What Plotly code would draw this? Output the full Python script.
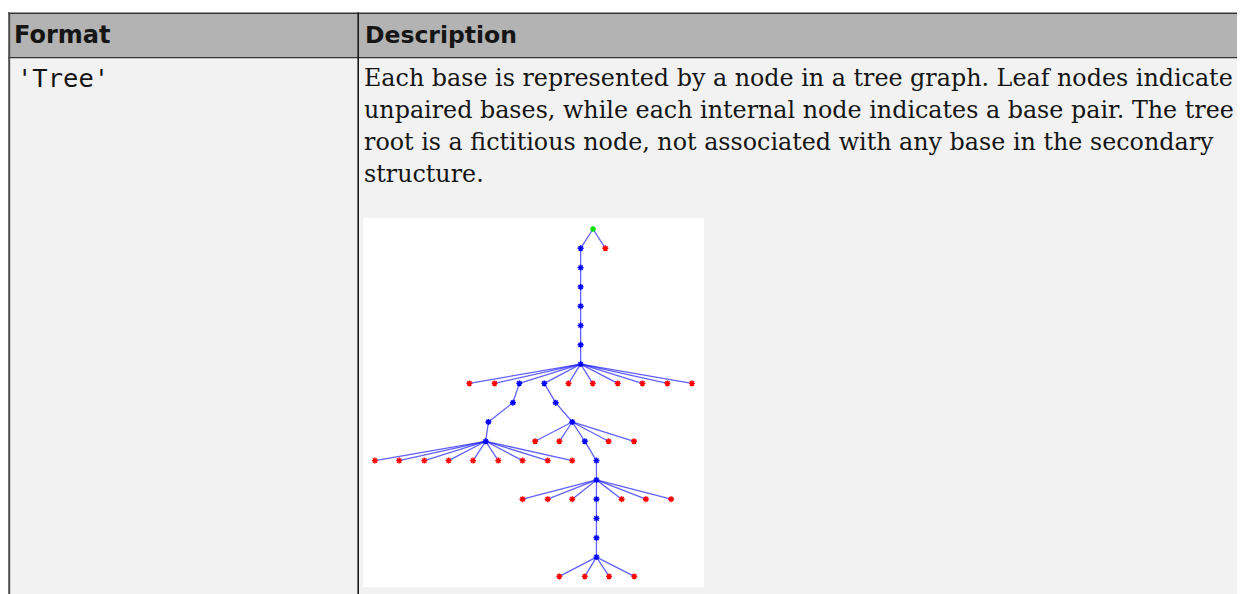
import plotly.graph_objects as go

# page offset: the browser's default body margin shifts the figure by 8px
OX, OY = 8, 8
PAGE_W, PAGE_H = 1245, 594
W, H = PAGE_W, PAGE_H - OY

# ---------------- table text ----------------
header_labels = ["Format", "Description"]
format_value = "'Tree'"
description_lines = [
    "Each base is represented by a node in a tree graph. Leaf nodes indicate",
    "unpaired bases, while each internal node indicates a base pair. The tree",
    "root is a fictitious node, not associated with any base in the secondary",
    "structure.",
]

# ---------------- tree data ----------------
# node x position (layout units), node depth (level), parent index (-1 = root)
node_x = [
    5.0, 4.5, 5.5, 4.5, 4.5, 4.5, 4.5, 4.5, 4.5,                    # 0-8
    0.0, 1.02, 2.02, 3.03, 4.01, 4.99, 6.0, 7.0, 8.01, 9.0,          # 9-18
    1.76, 0.77, 0.66,                                                # 19-21
    -3.82, -2.84, -1.82, -0.84, 0.15, 1.17, 2.15, 3.17, 4.16,        # 22-30
    3.49, 4.16,                                                      # 31-32
    2.66, 3.64, 4.67, 5.63, 6.66,                                    # 33-37
    5.14, 5.14,                                                      # 38-39
    2.15, 3.17, 4.16, 5.14, 6.16, 7.14, 8.16,                        # 40-46
    5.14, 5.14, 5.14,                                                # 47-49
    3.64, 4.67, 5.65, 6.67,                                          # 50-53
]
node_depth = [
    0, 1, 1, 2, 3, 4, 5, 6, 7,
    8, 8, 8, 8, 8, 8, 8, 8, 8, 8,
    9, 10, 11,
    12, 12, 12, 12, 12, 12, 12, 12, 12,
    9, 10,
    11, 11, 11, 11, 11,
    12, 13,
    14, 14, 14, 14, 14, 14, 14,
    15, 16, 17,
    18, 18, 18, 18,
]
node_parent = [
    -1, 0, 0, 1, 3, 4, 5, 6, 7,
    8, 8, 8, 8, 8, 8, 8, 8, 8, 8,
    11, 19, 20,
    21, 21, 21, 21, 21, 21, 21, 21, 21,
    12, 31,
    32, 32, 32, 32, 32,
    35, 38,
    39, 39, 39, 39, 39, 39, 39,
    43, 47, 48,
    49, 49, 49, 49,
]

# ---------------- helpers (page pixel -> paper) ----------------
def px(x):
    return (x - OX) / W


def py(y):
    return 1 - (y - OY) / H


shapes = []


def rect(x0, y0, x1, y1, fill):
    shapes.append(dict(type="rect", xref="paper", yref="paper", layer="below",
                       x0=px(x0), x1=px(x1), y0=py(y1), y1=py(y0),
                       fillcolor=fill, line=dict(width=0)))


def line(x0, y0, x1, y1, color, width):
    shapes.append(dict(type="line", xref="paper", yref="paper", layer="above",
                       x0=px(x0), x1=px(x1), y0=py(y0), y1=py(y1),
                       line=dict(color=color, width=width)))


# cell fills
rect(9, 13.3, PAGE_W + 20, 57.3, "#b3b3b3")
rect(9, 57.3, PAGE_W + 20, PAGE_H + 5, "#f2f2f2")
# white picture area
rect(363.3, 218, 704, 587, "#ffffff")
# borders
line(8, 13.3, PAGE_W + 20, 13.3, "#333333", 1.5)
line(8, 57.6, PAGE_W + 20, 57.6, "#333333", 1.2)
line(9.2, 12.6, 9.2, PAGE_H + 5, "#4d4d4d", 2)
line(358.2, 12.6, 358.2, PAGE_H + 5, "#1a1a1a", 1.6)

# ---------------- tree traces ----------------
edge_x, edge_y = [], []
for i, p in enumerate(node_parent):
    if p >= 0:
        edge_x += [node_x[p], node_x[i], None]
        edge_y += [node_depth[p], node_depth[i], None]

children_count = [0] * len(node_x)
for p in node_parent:
    if p >= 0:
        children_count[p] += 1

groups = {"root": ([], []), "internal": ([], []), "leaf": ([], [])}
for i in range(len(node_x)):
    if node_parent[i] < 0:
        k = "root"
    elif children_count[i] > 0:
        k = "internal"
    else:
        k = "leaf"
    groups[k][0].append(node_x[i])
    groups[k][1].append(node_depth[i])

colors = {"root": "#00dd00", "internal": "#0000ff", "leaf": "#ff0000"}

fig = go.Figure()
fig.add_trace(go.Scatter(x=edge_x, y=edge_y, mode="lines",
                         line=dict(color="rgba(30,30,255,0.7)", width=1.3),
                         hoverinfo="skip", showlegend=False))
for k, (xs, ys) in groups.items():
    fig.add_trace(go.Scatter(x=xs, y=ys, mode="markers",
                             marker=dict(symbol="asterisk-open", size=5,
                                         color=colors[k],
                                         line=dict(color=colors[k], width=1.4)),
                             hoverinfo="skip", showlegend=False))

# axis mapping onto the picture area
fig.update_xaxes(domain=[px(363.3), px(704)], range=[-4.29, 9.49],
                 visible=False, fixedrange=True)
fig.update_yaxes(domain=[py(587), py(218)], range=[18.55, -0.57],
                 visible=False, fixedrange=True)

# ---------------- text annotations ----------------
annotations = []
TXT = "#151515"


def text(x, y_center, s, family, size, bold=False):
    annotations.append(dict(xref="paper", yref="paper", x=px(x), y=py(y_center),
                            xanchor="left", yanchor="middle", showarrow=False,
                            text=("<b>%s</b>" % s) if bold else s,
                            borderpad=0,
                            font=dict(family=family, size=size, color=TXT)))


SANS = "DejaVu Sans"
SERIF = "DejaVu Serif"
MONO = "DejaVu Sans Mono"
text(12.5, 35.0, header_labels[0], SANS, 24, bold=True)
text(364.0, 35.0, header_labels[1], SANS, 23.5, bold=True)
text(15.5, 77.5, format_value, MONO, 25.5)
for i, ln in enumerate(description_lines):
    text(363.0, 78.0 + 32 * i, ln, SERIF, 23.8)

fig.update_layout(width=W, height=H, margin=dict(l=0, r=0, t=0, b=0),
                  paper_bgcolor="#ffffff", plot_bgcolor="rgba(0,0,0,0)",
                  shapes=shapes, annotations=annotations)

fig.write_html("out.html")
